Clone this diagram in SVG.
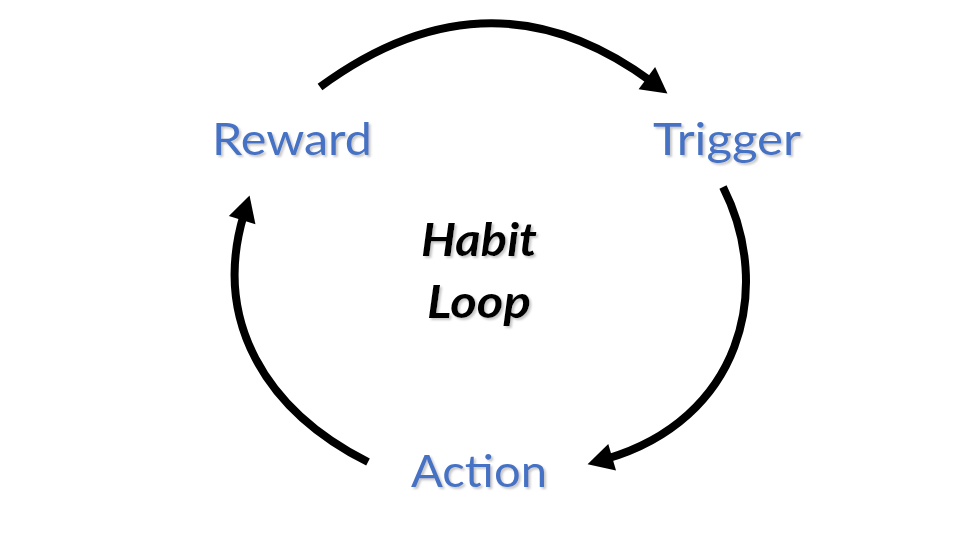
<svg xmlns="http://www.w3.org/2000/svg" width="960" height="540" viewBox="0 0 960 540">
  <defs>
    <filter id="sh" x="-10%" y="-10%" width="130%" height="140%">
      <feDropShadow dx="2" dy="2" stdDeviation="0.8" flood-color="#b8b8b8" flood-opacity="0.8"/>
    </filter>
    <marker id="ah" markerUnits="userSpaceOnUse" markerWidth="32" markerHeight="32" viewBox="-2 -15 30 30" refX="6" refY="0" orient="auto">
      <path d="M0,-13 L24,0 L0,13 Z" fill="#000"/>
    </marker>
    <style>
      .lbl { font-family: Lato, "Open Sans", sans-serif; font-size: 44px; fill: #4472C4; filter: url(#sh); }
      .ctr { font-family: Lato, "Open Sans", sans-serif; font-size: 45px; font-weight: bold; font-style: italic; fill: #000; filter: url(#sh); }
      .arc { fill: none; stroke: #000; stroke-width: 8; marker-end: url(#ah); }
    </style>
  </defs>
  <rect width="960" height="540" fill="#fff"/>
  <g id="connectors">
    <path class="arc" d="M320,87 Q490,-38 652,82"/>
    <path class="arc" d="M723,187 C775,290 740,420 606,459"/>
    <path class="arc" d="M368,462 C265,410 212,320 244,214"/>
  </g>
  <g id="reward"><text class="lbl" x="212" y="155" textLength="160" lengthAdjust="spacingAndGlyphs">Reward</text></g>
  <g id="trigger"><text class="lbl" x="653" y="155" textLength="148" lengthAdjust="spacingAndGlyphs">Trigger</text></g>
  <g id="action"><text class="lbl" x="411" y="487" textLength="136" lengthAdjust="spacingAndGlyphs">Action</text></g>
  <g id="habit-loop">
    <text class="ctr" x="421" y="256" textLength="116" lengthAdjust="spacingAndGlyphs">Habit</text>
    <text class="ctr" x="427" y="318" textLength="104" lengthAdjust="spacingAndGlyphs">Loop</text>
  </g>
</svg>
